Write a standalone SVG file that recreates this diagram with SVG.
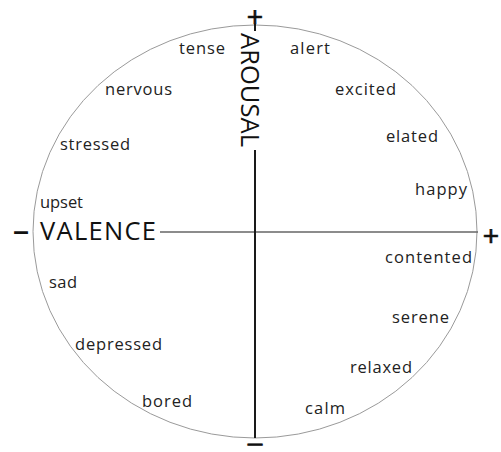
<svg xmlns="http://www.w3.org/2000/svg" width="501" height="452" viewBox="0 0 501 452">
<style>
.lbl{font-family:"Open Sans","Liberation Sans",sans-serif;font-size:16.5px;fill:#222}
.axis{font-family:"Open Sans","Liberation Sans",sans-serif;font-size:25.5px;fill:#111}
.sym{font-family:"Liberation Sans",sans-serif;font-size:28px;fill:#111;text-anchor:middle}
</style>
<rect width="501" height="452" fill="#fff"/>
<g id="circle"><ellipse cx="255" cy="231.5" rx="222" ry="206.5" fill="none" stroke="#9a9a9a" stroke-width="1"/></g>
<g id="connectors">
<line x1="160" y1="232" x2="478" y2="232" stroke="#666" stroke-width="1.6"/>
<line x1="255" y1="150" x2="255" y2="438" stroke="#1a1a1a" stroke-width="2"/>
<line x1="255" y1="24" x2="255" y2="31" stroke="#1a1a1a" stroke-width="2"/>
</g>
<g id="arousal">
<text class="sym" x="255" y="26" stroke="#111" stroke-width="0.6">+</text>
<text class="axis" transform="translate(241,33) rotate(90)" textLength="114">AROUSAL</text>
<text class="sym" transform="translate(255,449) scale(1,0.55)" font-weight="bold" stroke="#111" stroke-width="1.6">–</text>
</g>
<g id="valence">
<text class="sym" x="21" y="240" font-weight="bold">–</text>
<text class="axis" x="40" y="240" textLength="116">VALENCE</text>
<text class="sym" x="491" y="245" stroke="#111" stroke-width="0.6">+</text>
</g>
<g id="labels">
<text class="lbl" x="179" y="54" textLength="46">tense</text>
<text class="lbl" x="290" y="54" textLength="40">alert</text>
<text class="lbl" x="105" y="95" textLength="67">nervous</text>
<text class="lbl" x="335" y="95" textLength="61">excited</text>
<text class="lbl" x="60" y="150" textLength="70">stressed</text>
<text class="lbl" x="386" y="142" textLength="52">elated</text>
<text class="lbl" x="415" y="195" textLength="52">happy</text>
<text class="lbl" x="40" y="208" textLength="43">upset</text>
<text class="lbl" x="385" y="263" textLength="87">contented</text>
<text class="lbl" x="49" y="288" textLength="28">sad</text>
<text class="lbl" x="392" y="323" textLength="57">serene</text>
<text class="lbl" x="75" y="350" textLength="87">depressed</text>
<text class="lbl" x="350" y="373" textLength="62">relaxed</text>
<text class="lbl" x="142" y="407" textLength="50">bored</text>
<text class="lbl" x="305" y="414" textLength="40">calm</text>
</g>
</svg>
